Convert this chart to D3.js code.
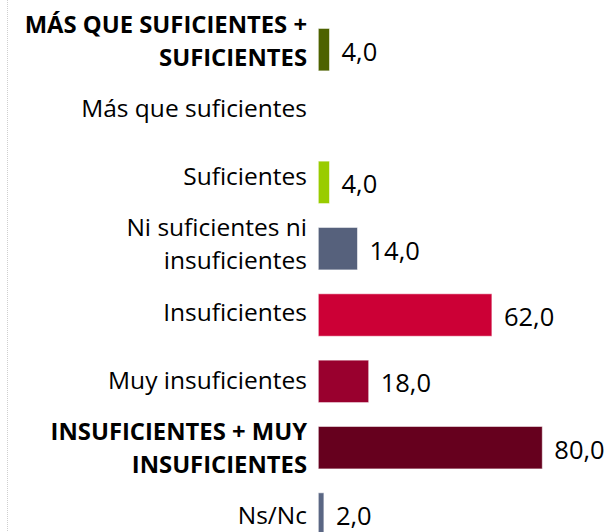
<!DOCTYPE html>
<html>
<head>
<meta charset="utf-8">
<script src="https://cdn.jsdelivr.net/npm/d3@7"></script>
<style>
  html, body { margin: 0; padding: 0; background: #fff; }
  svg { display: block; font-family: "Open Sans", sans-serif; }
</style>
</head>
<body>
<div class="bar-chart-area"></div>
<script>
const categories = [
    "MÁS QUE SUFICIENTES + SUFICIENTES",
    "Más que suficientes",
    "Suficientes",
    "Ni suficientes ni insuficientes",
    "Insuficientes",
    "Muy insuficientes",
    "INSUFICIENTES + MUY INSUFICIENTES",
    "Ns/Nc"
];
const labelLines = [
    ["MÁS QUE SUFICIENTES +", "SUFICIENTES"],
    ["Más que suficientes"],
    ["Suficientes"],
    ["Ni suficientes ni", "insuficientes"],
    ["Insuficientes"],
    ["Muy insuficientes"],
    ["INSUFICIENTES + MUY", "INSUFICIENTES"],
    ["Ns/Nc"]
];
const values = [4.0, 0, 4.0, 14.0, 62.0, 18.0, 80.0, 2.0];
const totals = ["MÁS QUE SUFICIENTES + SUFICIENTES", "INSUFICIENTES + MUY INSUFICIENTES"];
const barColors = ["#4d6200", "#4d6200", "#99cc00", "#56617c", "#cc0036", "#99002e", "#66001e", "#5b6784"];

const width = 611;
const height = 532;
const fontSize = 24.5;
const boldSize = 23.8;
const valueSize = 25.5;
const lineGap = 33;

const svg = d3.select(".bar-chart-area")
    .append("svg")
    .attr("width", width)
    .attr("height", height);

// dotted frame edge on the left
svg.append("line")
    .attr("x1", 7.5).attr("x2", 7.5)
    .attr("y1", 0).attr("y2", height)
    .attr("stroke", "#cfcfcf")
    .attr("stroke-width", 1)
    .attr("stroke-dasharray", "1,1");

const x = d3.scaleLinear()
    .domain([0, 100])
    .range([318.3, 598.3]);

const y = d3.scaleBand()
    .domain(categories)
    .range([16.5, 547.2])
    .paddingInner(0.36)
    .paddingOuter(0.18);

// category labels are spread a bit wider than the bars
const yLabel = d3.scalePoint()
    .domain(categories)
    .range([40.5, 515.5]);

const color = d3.scaleOrdinal(categories, barColors);

const rows = categories.map((c, i) => ({
    name: c,
    value: values[i],
    lines: labelLines[i],
    bold: totals.includes(c)
}));

svg.selectAll("rect.bar")
    .data(rows.filter(d => d.value > 0))
    .enter().append("rect")
    .attr("class", "bar")
    .attr("x", x(0))
    .attr("y", d => y(d.name))
    .attr("width", d => x(d.value) - x(0))
    .attr("height", y.bandwidth())
    .attr("fill", d => color(d.name))
    .attr("stroke", "rgba(255,255,255,0.55)")
    .attr("stroke-width", 1);

const fmt = v => d3.format(".1f")(v).replace(".", ",");

svg.selectAll("text.value")
    .data(rows.filter(d => d.value > 0))
    .enter().append("text")
    .attr("class", "value")
    .attr("x", d => x(d.value) + 12)
    .attr("y", d => Math.min(y(d.name) + y.bandwidth() / 2 + 2 + valueSize * 0.357, height - 7))
    .attr("font-size", valueSize)
    .attr("fill", "#000")
    .text(d => fmt(d.value));

const label = svg.selectAll("text.label")
    .data(rows)
    .enter().append("text")
    .attr("class", "label")
    .attr("text-anchor", "end")
    .attr("font-size", d => d.bold ? boldSize : fontSize)
    .attr("font-weight", d => d.bold ? "bold" : "normal")
    .attr("fill", "#000");

label.selectAll("tspan")
    .data(d => d.lines.map((t, j) => ({ t, j, n: d.lines.length, name: d.name })))
    .enter().append("tspan")
    .attr("x", 307)
    .attr("y", d => yLabel(d.name) + fontSize * 0.357 + (d.j - (d.n - 1) / 2) * lineGap)
    .text(d => d.t);
</script>
</body>
</html>
